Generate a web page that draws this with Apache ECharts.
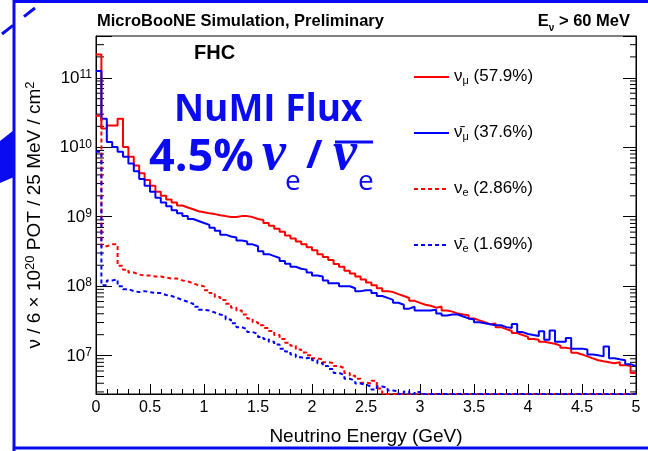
<!DOCTYPE html>
<html>
<head>
<meta charset="utf-8">
<script src="https://cdn.jsdelivr.net/npm/echarts@6/dist/echarts.min.js"></script>
<style>
  html, body { margin: 0; padding: 0; background: #fff; }
  #main { width: 648px; height: 451px; }
</style>
</head>
<body>
<div id="main"></div>
<script>
/** 数据：每个 bin 宽 0.05 GeV，从 0 到 5 GeV */
var binWidth = 0.05;
var energyMin = 0, energyMax = 5;
var xTicks = [0, 0.5, 1, 1.5, 2, 2.5, 3, 3.5, 4, 4.5, 5];
var yMin = 2.8e6, yMax = 4e11;

// nu_mu (红色实线)
var numuFlux = [
  2.17e11, 1.87e10, 2.05e10, 2.05e10, 2.58e10, 1.01e10, 7.31e9, 5.47e9, 4.22e9, 3.37e9,
  2.78e9, 2.29e9, 2.01e9, 1.77e9, 1.60e9, 1.45e9, 1.36e9, 1.28e9, 1.20e9, 1.16e9,
  1.12e9, 1.09e9, 1.05e9, 1.02e9, 9.87e8, 9.87e8, 1.02e9, 1.02e9, 9.87e8, 9.25e8,
  8.96e8, 8.13e8, 7.38e8, 6.70e8, 6.08e8, 5.35e8, 4.85e8, 4.40e8, 4.00e8, 3.63e8,
  3.30e8, 2.89e8, 2.62e8, 2.38e8, 2.09e8, 1.90e8, 1.67e8, 1.52e8, 1.38e8, 1.25e8,
  1.13e8, 1.03e8, 9.35e7, 8.48e7, 8.21e7, 7.69e7, 7.21e7, 6.76e7, 6.14e7, 5.75e7,
  5.39e7, 5.22e7, 4.90e7, 5.10e7, 4.45e7, 4.30e7, 4.03e7, 3.91e7, 3.80e7, 3.43e7,
  3.22e7, 3.02e7, 2.83e7, 2.90e7, 2.57e7, 2.41e7, 2.26e7, 2.11e7, 1.98e7, 1.86e7,
  1.74e7, 1.69e7, 1.58e7, 1.53e7, 1.48e7, 1.39e7, 1.30e7, 1.26e7, 1.10e7, 1.04e7,
  9.75e6, 9.14e6, 8.57e6, 8.29e6, 8.03e6, 7.78e6, 8.00e6, 7.29e6, 7.06e6, 5.60e6
];
// anti nu_mu (蓝色实线)
var numubarFlux = [
  1.25e11, 2.58e10, 1.19e10, 1.01e10, 8.59e9, 7.31e9, 5.83e9, 4.50e9, 3.48e9, 2.78e9,
  2.29e9, 1.88e9, 1.60e9, 1.41e9, 1.24e9, 1.12e9, 1.02e9, 9.25e8, 8.68e8, 8.13e8,
  7.63e8, 6.92e8, 6.28e8, 5.52e8, 5.18e8, 5.01e8, 4.55e8, 4.40e8, 4.00e8, 3.75e8,
  3.19e8, 2.89e8, 2.71e8, 2.54e8, 2.31e8, 2.10e8, 1.90e8, 1.78e8, 1.73e8, 1.57e8,
  1.42e8, 1.38e8, 1.21e8, 1.10e8, 1.10e8, 9.97e7, 9.97e7, 9.34e7, 8.48e7, 8.76e7,
  8.76e7, 7.95e7, 7.22e7, 6.77e7, 6.34e7, 5.76e7, 5.40e7, 4.74e7, 5.06e7, 4.45e7,
  4.45e7, 4.45e7, 4.59e7, 4.04e7, 3.78e7, 3.91e7, 3.91e7, 3.66e7, 3.43e7, 3.32e7,
  3.02e7, 2.92e7, 2.83e7, 2.74e7, 2.74e7, 2.57e7, 2.49e7, 2.85e7, 2.18e7, 2.05e7,
  1.98e7, 1.92e7, 2.25e7, 1.69e7, 2.30e7, 1.58e7, 1.58e7, 1.80e7, 1.26e7, 1.26e7,
  1.22e7, 1.04e7, 1.01e7, 9.75e6, 1.35e7, 9.14e6, 8.84e6, 8.57e6, 7.53e6, 7.06e6
];
// nu_e (红色虚线)
var nueFlux = [
  2.84e10, 3.75e8, 4.00e8, 4.00e8, 1.96e8, 1.73e8, 1.57e8, 1.47e8, 1.42e8, 1.42e8,
  1.38e8, 1.38e8, 1.33e8, 1.29e8, 1.29e8, 1.21e8, 1.17e8, 1.10e8, 1.03e8, 9.97e7,
  8.76e7, 7.95e7, 6.99e7, 6.34e7, 5.57e7, 4.90e7, 4.45e7, 3.91e7, 3.43e7, 3.02e7,
  2.74e7, 2.49e7, 2.26e7, 1.98e7, 1.74e7, 1.53e7, 1.39e7, 1.22e7, 1.11e7, 1.01e7,
  9.14e6, 8.84e6, 8.03e6, 7.78e6, 7.06e6, 6.62e6, 5.63e6, 5.11e6, 4.64e6, 4.08e6,
  3.95e6, 4.35e6, 3.36e6, 2.8e6, 2.8e6, 2.8e6, 2.8e6, 2.8e6, 2.8e6, 2.8e6,
  2.8e6, 2.8e6, 2.8e6, 2.8e6, 2.8e6, 2.8e6, 2.8e6, 2.8e6, 2.8e6, 2.8e6,
  2.8e6, 2.8e6, 2.8e6, 2.8e6, 2.8e6, 2.8e6, 2.8e6, 2.8e6, 2.8e6, 2.8e6,
  2.8e6, 2.8e6, 2.8e6, 2.8e6, 2.8e6, 2.8e6, 2.8e6, 2.8e6, 2.8e6, 2.8e6,
  2.8e6, 2.8e6, 2.8e6, 2.8e6, 2.8e6, 2.8e6, 2.8e6, 2.8e6, 2.8e6, 2.8e6
];
// anti nu_e (蓝色虚线)
var nuebarFlux = [
  8.60e9, 1.03e8, 1.21e8, 1.25e8, 9.97e7, 9.05e7, 8.48e7, 8.21e7, 8.48e7, 8.21e7,
  7.95e7, 7.95e7, 7.46e7, 7.22e7, 6.77e7, 6.34e7, 5.95e7, 5.57e7, 5.06e7, 4.59e7,
  4.45e7, 4.17e7, 3.91e7, 3.78e7, 3.32e7, 2.92e7, 2.57e7, 2.41e7, 2.18e7, 2.05e7,
  1.86e7, 1.74e7, 1.58e7, 1.44e7, 1.26e7, 1.15e7, 1.04e7, 9.44e6, 9.14e6, 9.44e6,
  8.57e6, 7.78e6, 7.06e6, 6.40e6, 5.63e6, 5.28e6, 4.64e6, 4.35e6, 3.95e6, 3.82e6,
  3.58e6, 3.25e6, 3.58e6, 3.47e6, 3.15e6, 3.05e6, 2.8e6, 3.05e6, 2.8e6, 3.0e6,
  2.8e6, 2.8e6, 2.8e6, 2.8e6, 2.8e6, 2.8e6, 2.8e6, 2.8e6, 2.8e6, 2.8e6,
  2.8e6, 2.8e6, 2.8e6, 2.8e6, 2.8e6, 2.8e6, 2.8e6, 2.8e6, 2.8e6, 2.8e6,
  2.8e6, 2.8e6, 2.8e6, 2.8e6, 2.8e6, 2.8e6, 2.8e6, 2.8e6, 2.8e6, 2.8e6,
  2.8e6, 2.8e6, 2.8e6, 2.8e6, 2.8e6, 2.8e6, 2.8e6, 2.8e6, 2.8e6, 2.8e6
];
// 对数轴上的次刻度 (2..9 x 10^n)
var yMinorTicks = [
  3e6, 4e6, 5e6, 6e6, 7e6, 8e6, 9e6,
  2e7, 3e7, 4e7, 5e7, 6e7, 7e7, 8e7, 9e7,
  2e8, 3e8, 4e8, 5e8, 6e8, 7e8, 8e8, 9e8,
  2e9, 3e9, 4e9, 5e9, 6e9, 7e9, 8e9, 9e9,
  2e10, 3e10, 4e10, 5e10, 6e10, 7e10, 8e10, 9e10,
  2e11, 3e11
];

var seriesNames = ['numu', 'numubar', 'nue', 'nuebar'];
var legendLabels = {
  numu: '{t|ν}{s|μ}{t| (57.9%)}',
  numubar: '{t|ν̄}{s|μ}{t| (37.6%)}',
  nue: '{t|ν}{s|e}{t| (2.86%)}',
  nuebar: '{t|ν̄}{s|e}{t| (1.69%)}'
};

/** 样式 */
var FONT = '"Liberation Sans", Arial, Helvetica, sans-serif';
var RED = '#ff0000';
var BLUE = '#0000ff';
var SLIDE_BLUE = '#0b0bf2';

/** 直方图转阶梯线数据 */
var toSteps = function (vals) {
  var pts = [];
  for (var i = 0; i < vals.length; i++) {
    pts.push([energyMin + i * binWidth, vals[i]]);
  }
  pts.push([energyMax, vals[vals.length - 1]]);
  return pts;
};

var histSeries = function (name, vals, color, dashed) {
  return {
    name: name,
    type: 'line',
    step: 'end',
    symbol: 'none',
    data: toSteps(vals),
    lineStyle: { color: color, width: 2, type: dashed ? [4, 3] : 'solid' },
    itemStyle: { color: color },
    clip: true,
    z: 3
  };
};

var superRich = {
  b: { fontSize: 17, fontFamily: FONT, color: '#000', lineHeight: 18, verticalAlign: 'bottom' },
  p: { fontSize: 12, fontFamily: FONT, color: '#000', lineHeight: 12, verticalAlign: 'top' }
};

var myChart = echarts.init(document.getElementById('main'), null, { renderer: 'canvas' });

var option = {
  animation: false,
  backgroundColor: '#fff',
  title: [
    {
      text: 'MicroBooNE Simulation, Preliminary',
      left: 92, top: 8,
      textStyle: { fontSize: 16.5, fontWeight: 'bold', fontFamily: FONT, color: '#000' }
    },
    {
      text: '{b|E}{s|ν}{b| > 60 MeV}',
      right: 13, top: 8,
      textStyle: {
        rich: {
          b: { fontSize: 16.5, fontWeight: 'bold', fontFamily: FONT, color: '#000', lineHeight: 20, verticalAlign: 'top' },
          s: { fontSize: 10, fontFamily: FONT, color: '#000', lineHeight: 10, verticalAlign: 'bottom' }
        }
      }
    },
    {
      text: 'FHC',
      left: 189, top: 38,
      textStyle: { fontSize: 20, fontWeight: 'bold', fontFamily: FONT, color: '#000' }
    }
  ],
  legend: {
    orient: 'vertical',
    left: 413, top: 68,
    padding: 0,
    itemWidth: 35, itemHeight: 14, itemGap: 38,
    data: seriesNames,
    itemStyle: { opacity: 0 },
    formatter: function (name) { return legendLabels[name]; },
    textStyle: {
      rich: {
        t: { fontSize: 17, fontFamily: FONT, color: '#000', lineHeight: 18, verticalAlign: 'top' },
        s: { fontSize: 11, fontFamily: FONT, color: '#000', lineHeight: 14, verticalAlign: 'bottom' }
      }
    }
  },
  grid: {
    left: 96, right: 12, top: 36, bottom: 48,
    show: true, borderColor: '#000', borderWidth: 1, backgroundColor: 'transparent'
  },
  xAxis: {
    type: 'value',
    min: energyMin, max: energyMax, interval: 0.5,
    name: 'Neutrino Energy (GeV)',
    nameLocation: 'middle', nameGap: 33,
    nameTextStyle: { fontSize: 19, fontFamily: FONT, color: '#000' },
    axisLine: { lineStyle: { color: '#000', width: 1 } },
    axisTick: { inside: true, length: 10, lineStyle: { color: '#000' } },
    minorTick: { show: true, splitNumber: 5, length: 5, lineStyle: { color: '#000' } },
    axisLabel: { fontSize: 16, fontFamily: FONT, color: '#000', margin: 6,
      formatter: function (v) { return xTicks.indexOf(v) >= 0 ? String(v) : ''; } },
    splitLine: { show: false }
  },
  yAxis: [
    {
      type: 'log',
      min: yMin, max: yMax,
      name: '{t|ν / 6 × 10}{p|20}{t| POT / 25 MeV / cm}{p|2}',
      nameLocation: 'middle', nameGap: 52,
      nameTextStyle: {
        rich: {
          t: { fontSize: 19, fontFamily: FONT, color: '#000', lineHeight: 20, verticalAlign: 'bottom' },
          p: { fontSize: 13, fontFamily: FONT, color: '#000', lineHeight: 13, verticalAlign: 'top' }
        }
      },
      axisLine: { show: true, lineStyle: { color: '#000', width: 1 } },
      axisTick: { inside: true, length: 16, lineStyle: { color: '#000' } },
      axisLabel: {
        margin: 4,
        formatter: function (v) {
          var l = Math.log10(v);
          var e = Math.round(l);
          if (Math.abs(l - e) > 1e-6) return '';
          return '{b|10}{p|' + e + '}';
        },
        rich: superRich
      },
      splitLine: { show: false }
    },
    {
      type: 'log',
      position: 'right',
      min: yMin, max: yMax,
      axisLine: { show: true, lineStyle: { color: '#000', width: 1 } },
      axisTick: { inside: true, length: 13, lineStyle: { color: '#000' } },
      axisLabel: { show: false },
      splitLine: { show: false }
    }
  ],
  series: [
    histSeries('numu', numuFlux, RED, false),
    histSeries('numubar', numubarFlux, BLUE, false),
    histSeries('nue', nueFlux, RED, true),
    histSeries('nuebar', nuebarFlux, BLUE, true),
    {
      // 次刻度（左右两侧）
      type: 'custom',
      silent: true,
      z: 2,
      data: yMinorTicks.map(function (v) { return [energyMin, v]; }),
      renderItem: function (params, api) {
        var l = api.coord([energyMin, api.value(1)]);
        var r = api.coord([energyMax, api.value(1)]);
        return {
          type: 'group',
          children: [
            { type: 'line', shape: { x1: l[0], y1: l[1], x2: l[0] + 8, y2: l[1] }, style: { stroke: '#000', lineWidth: 1 } },
            { type: 'line', shape: { x1: r[0] - 6, y1: r[1], x2: r[0], y2: r[1] }, style: { stroke: '#000', lineWidth: 1 } }
          ]
        };
      }
    }
  ],
  graphic: [
    // 外框（幻灯片装饰）
    { type: 'line', shape: { x1: 14, y1: 0, x2: 14, y2: 451 }, style: { stroke: SLIDE_BLUE, lineWidth: 3 } },
    { type: 'line', shape: { x1: 13, y1: 1.5, x2: 648, y2: 1.5 }, style: { stroke: SLIDE_BLUE, lineWidth: 3 } },
    { type: 'line', shape: { x1: 13, y1: 448, x2: 648, y2: 448 }, style: { stroke: SLIDE_BLUE, lineWidth: 3 } },
    { type: 'line', shape: { x1: 2, y1: 34, x2: 40, y2: 4 }, style: { stroke: SLIDE_BLUE, lineWidth: 3, lineDash: [14, 14] } },
    { type: 'polygon', shape: { points: [[0, 141], [14, 130], [14, 177], [0, 183]] }, style: { fill: SLIDE_BLUE } },
    // NuMI 标注
    { type: 'text', x: 174, y: 110, style: { text: 'NuMI Flux', fill: SLIDE_BLUE, font: 'bold 37px "Open Sans"', verticalAlign: 'middle' } },
    { type: 'text', x: 149, y: 158, style: { text: '4.5%', fill: SLIDE_BLUE, font: 'bold 45px "Open Sans"', verticalAlign: 'middle' } },
    { type: 'text', x: 262, y: 155, style: { text: 'ν', fill: SLIDE_BLUE, font: 'italic bold 54px "Liberation Serif"', verticalAlign: 'middle' } },
    { type: 'text', x: 285, y: 182, style: { text: 'e', fill: SLIDE_BLUE, font: '28px "Open Sans"', verticalAlign: 'middle' } },
    { type: 'text', x: 306, y: 157, style: { text: '/', fill: SLIDE_BLUE, font: 'bold 40px "Open Sans"', verticalAlign: 'middle' } },
    { type: 'text', x: 333, y: 155, style: { text: 'ν', fill: SLIDE_BLUE, font: 'italic bold 54px "Liberation Serif"', verticalAlign: 'middle' } },
    { type: 'line', shape: { x1: 335, y1: 142, x2: 373, y2: 142 }, style: { stroke: SLIDE_BLUE, lineWidth: 3 } },
    { type: 'text', x: 358, y: 182, style: { text: 'e', fill: SLIDE_BLUE, font: '28px "Open Sans"', verticalAlign: 'middle' } }
  ]
};

myChart.setOption(option);
</script>
</body>
</html>
